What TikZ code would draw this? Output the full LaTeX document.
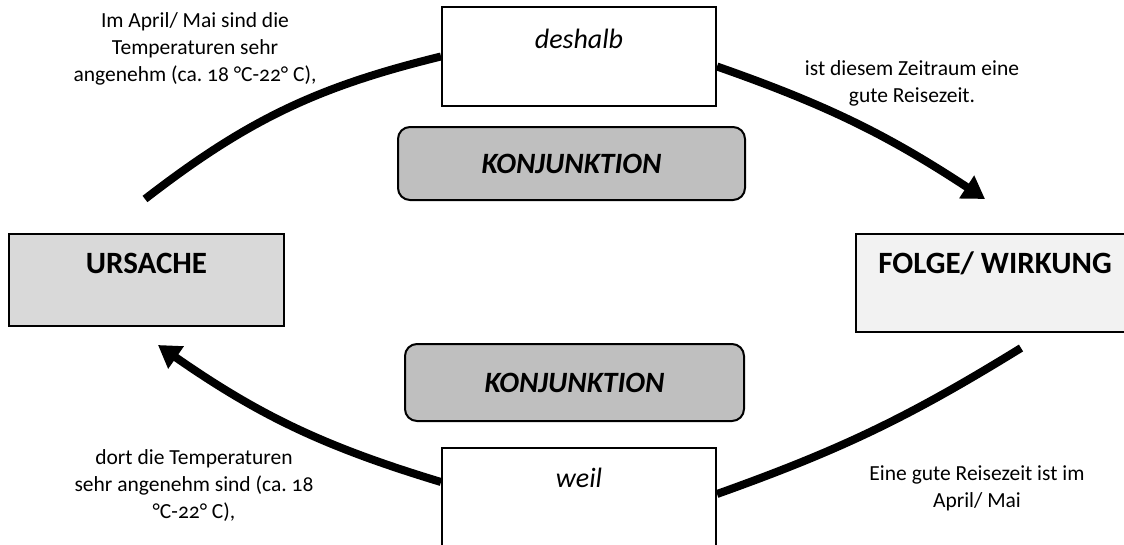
\documentclass[tikz,border=0pt]{standalone}
\usepackage{fontspec}
\setmainfont{Carlito}[Numbers=OldStyle]
\usetikzlibrary{arrows.meta,positioning}
\definecolor{causefill}{HTML}{D9D9D9}
\definecolor{effectfill}{HTML}{F2F2F2}
\definecolor{conjfill}{HTML}{BFBFBF}
\frenchspacing

\begin{document}
\begin{tikzpicture}[x=1pt,y=-1pt,
        wordbox/.style={draw,line width=2pt,fill=white,minimum width=274pt,inner ysep=0pt,
          font=\fontsize{28}{32}\selectfont\itshape},
        headbox/.style={draw,line width=2pt,inner ysep=0pt,text height=39pt,
          font=\fontsize{31}{36}\selectfont\bfseries},
        conjbox/.style={draw,line width=2pt,rounded corners=12pt,fill=conjfill,
          font=\fontsize{29.5}{34}\selectfont\bfseries\itshape},
        note/.style={align=center,font=\fontsize{21.5}{27}\selectfont},
        link/.style={line width=8pt},
        linkarrow/.style={line width=8pt,-{Triangle[length=22pt,width=26pt]}}]
        \path[use as bounding box](0,0) rectangle (1124,544);
        \clip(0,0) rectangle (1124,544);
        % boxes
        \node[wordbox,text height=41pt,text depth=58pt](deshalb) at (579,56.5){deshalb};
        \node[wordbox,text height=39pt,text depth=91pt](weil) at (579,513){weil};
        \node[headbox,fill=causefill,minimum width=275pt,text depth=53pt](ursache) at (146.5,280){URSACHE};
        \node[headbox,fill=effectfill,minimum width=278pt,text depth=59pt](folge) at (995,283){FOLGE/ WIRKUNG};
        \node[conjbox,minimum width=347pt,minimum height=73pt](konjtop) at (571.5,163.5){KONJUNKTION};
        \node[conjbox,minimum width=339pt,minimum height=77pt](konjbot) at (574.5,382.5){KONJUNKTION};
        % sentence parts
        \node[note](causeA) at (195,49){Im April/ Mai sind die\\Temperaturen sehr\\angenehm (ca. 18 °C-22° C),};
        \node[note](effectA) at (912,83){ist diesem Zeitraum eine\\gute Reisezeit.};
        \node[note](causeB) at (194,486){dort die Temperaturen\\sehr angenehm sind (ca. 18\\°C-22° C),};
        \node[note](effectB) at (977,488){Eine gute Reisezeit ist im\\April/ Mai};
        % connectors
        \coordinate(startA) at (145,199);
        \coordinate(tipA) at (985,199);
        \coordinate(startB) at (1021,348);
        \coordinate(tipB) at (158,345);
        \draw[link](startA) to[bend left=12] (deshalb.west);
        \draw[linkarrow]([yshift=-10pt]deshalb.east) to[bend left=7] (tipA);
        \draw[link](startB) to[bend left=6] ([yshift=19pt]weil.east);
        \draw[linkarrow]([yshift=31pt]weil.west) to[bend left=9] (tipB);
      \end{tikzpicture}
\end{document}
